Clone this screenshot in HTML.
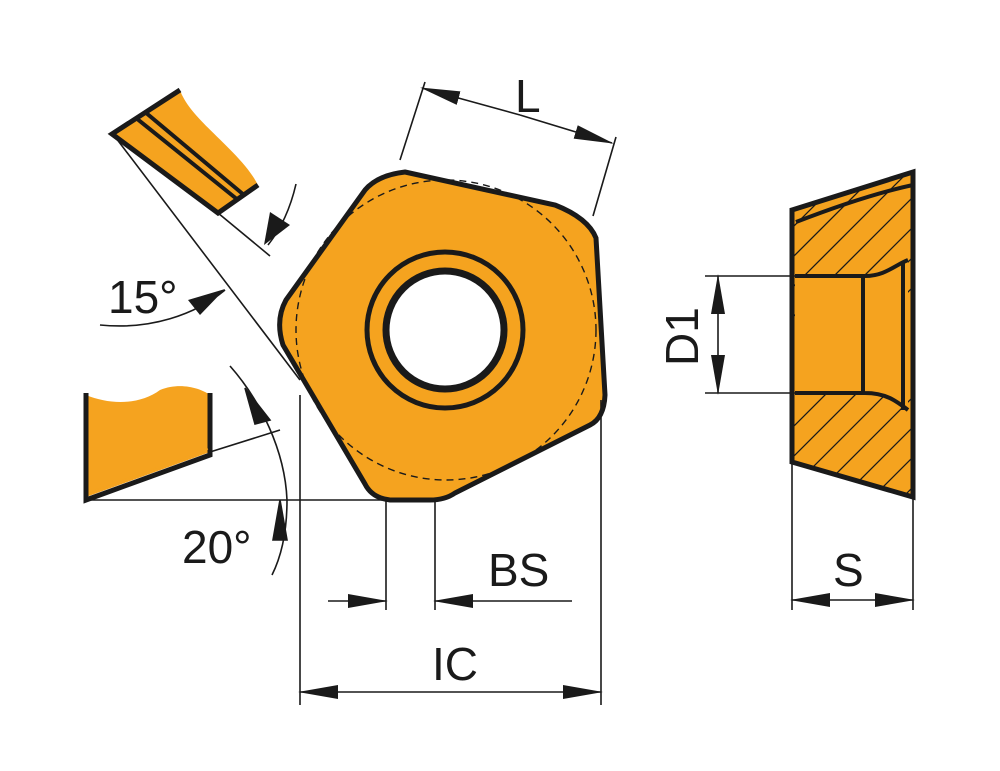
<!DOCTYPE html>
<html><head><style>body{margin:0;background:#fff}svg{display:block}</style></head><body>
<svg width="1000" height="771" viewBox="0 0 1000 771" xmlns="http://www.w3.org/2000/svg">
<defs>
<marker id="a" markerWidth="40" markerHeight="14" refX="38" refY="7" orient="auto" markerUnits="userSpaceOnUse"><path d="M0,0 L40,7 L0,14 Z" fill="#1a1a1a"/></marker>
<clipPath id="sec"><polygon points="792,210 913,172 913,497 792,462"/></clipPath>
</defs>
<g stroke="#1a1a1a" fill="none" stroke-width="1.6">
<path d="M112,134 L180,90 C190,120 240,150 258,185 L218,213 Z" fill="#f5a31f" stroke="none"/>
<path d="M180,90 L112,134 L218,213 L258,185" stroke-width="5"/>
<path d="M136,118 L238,200 M145,112 L244,195" stroke-width="4"/>
<path d="M116,138 L300,380 M218,213 L270,256"/>
<path d="M296,184 C290,210 280,230 268,245" />
<path d="M100,325 C150,330 195,315 225,290"/>
<path d="M188,300 L225,289 L200,315 Z" fill="#1a1a1a" stroke="none"/>
<path d="M270,212 L290,225 L264,245 Z" fill="#1a1a1a" stroke="none"/>
<path d="M86,395 C110,405 140,405 160,390 C180,382 200,388 210,395 L210,452 L86,497 Z" fill="#f5a31f" stroke="none"/>
<path d="M86,393 L86,500 L210,455 L210,393" stroke-width="5"/>
<path d="M90,492 L208,449" stroke="#f5a31f" stroke-width="1.2"/>
<path d="M86,500 L385,500 M210,452 L280,430"/>
<path d="M230,366 C260,400 285,450 287,500 C287,530 282,555 272,575"/>
<path d="M245,388 L270,420 L255,424 Z" fill="#1a1a1a"/>
<path d="M280,500 L287,540 L273,540 Z" fill="#1a1a1a"/>
<path d="M405,172 L555,205 Q588,218 596,238 L605,395 Q604,418 590,425 L455,493 Q445,500 430,500 L390,500 Q372,498 365,484 L283,345 Q275,320 286,300 L365,190 Q378,175 405,172 Z" fill="#f5a31f" stroke-width="5"/>
<circle cx="446" cy="330" r="150" stroke-dasharray="7,5" stroke-width="1.4"/>
<circle cx="445" cy="330" r="78" stroke-width="5"/>
<circle cx="445" cy="330" r="59" fill="#fff" stroke-width="7"/>
<path d="M400,160 L425,82 M593,216 L616,137"/>
<line x1="520" y1="115" x2="422" y2="88" marker-end="url(#a)"/>
<line x1="520" y1="115" x2="612" y2="143" marker-end="url(#a)"/>
<path d="M300,395 L300,705 M601,400 L601,705"/>
<line x1="450" y1="692" x2="300" y2="692" marker-end="url(#a)"/>
<line x1="450" y1="692" x2="601" y2="692" marker-end="url(#a)"/>
<path d="M386,500 L386,610 M435,500 L435,610"/>
<line x1="328" y1="601" x2="386" y2="601" marker-end="url(#a)"/>
<line x1="572" y1="601" x2="435" y2="601" marker-end="url(#a)"/>
<polygon points="792,210 913,172 913,497 792,462" fill="#f5a31f" stroke="none"/>
<g clip-path="url(#sec)" stroke-width="1.3">
<path d="M700,320 L900,120 M730,320 L930,120 M760,320 L960,120 M790,320 L990,120 M820,320 L1020,120 M850,320 L1050,120 M880,320 L1080,120 M670,320 L870,120 M640,320 L840,120"/>
<path d="M700,580 L900,380 M730,580 L930,380 M760,580 L960,380 M790,580 L990,380 M820,580 L1020,380 M850,580 L1050,380 M880,580 L1080,380 M670,580 L870,380 M640,580 L840,380"/>
</g>
<path d="M795,276 L863,276 L863,393 L795,393 Z M863,276 C885,276 895,265 908,260 L908,410 C895,400 885,393 863,393" fill="#f5a31f" stroke="none"/>
<path d="M795,276 L865,276 M795,393 L865,393 M863,276 L863,393 M865,276 C885,276 895,265 908,260 M865,393 C885,393 895,400 908,410 M903,262 L903,410" stroke-width="4"/>
<path d="M796,222 C840,205 880,192 913,185" stroke-width="4"/>
<polygon points="792,210 913,172 913,497 792,462" stroke-width="5"/>
<path d="M705,276 L795,276 M705,393 L795,393 M792,462 L792,610 M913,497 L913,610"/>
<line x1="718" y1="335" x2="718" y2="276" marker-end="url(#a)"/>
<line x1="718" y1="335" x2="718" y2="393" marker-end="url(#a)"/>
<line x1="852" y1="600" x2="792" y2="600" marker-end="url(#a)"/>
<line x1="852" y1="600" x2="913" y2="600" marker-end="url(#a)"/>
</g>
<g font-family="Liberation Sans, sans-serif" font-size="46" fill="#1a1a1a">
<text x="515" y="112">L</text>
<text x="432" y="680">IC</text>
<text x="488" y="586">BS</text>
<text x="833" y="586">S</text>
<text x="108" y="313">15°</text>
<text x="182" y="563">20°</text>
<text transform="translate(698,366) rotate(-90)">D1</text>
</g>
</svg>
</body></html>
